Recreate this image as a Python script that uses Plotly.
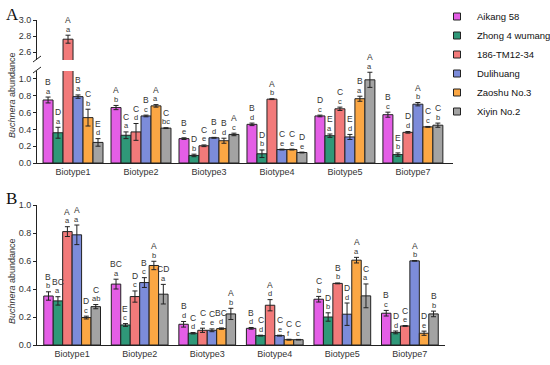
import plotly.graph_objects as go

biotypes = ["Biotype1", "Biotype2", "Biotype3", "Biotype4", "Biotype5", "Biotype7"]
cultivars = ["Aikang 58", "Zhong 4 wumang", "186-TM12-34", "Dulihuang", "Zaoshu No.3", "Xiyin No.2"]
colors = ["#E45EE6", "#2F9878", "#F27A7A", "#7C8CDA", "#FBA744", "#A3A3A3"]

# Panel A
a_aikang = [0.75, 0.66, 0.29, 0.46, 0.56, 0.575]
a_zhong = [0.36, 0.33, 0.09, 0.11, 0.325, 0.10]
a_186 = [2.76, 0.37, 0.205, 0.76, 0.645, 0.365]
a_duli = [0.79, 0.56, 0.30, 0.16, 0.31, 0.70]
a_zaoshu = [0.54, 0.68, 0.265, 0.16, 0.765, 0.43]
a_xiyin = [0.245, 0.415, 0.34, 0.125, 0.99, 0.45]
a_means = [a_aikang, a_zhong, a_186, a_duli, a_zaoshu, a_xiyin]

a_err = [
    [0.035, 0.025, 0.01, 0.015, 0.01, 0.03],
    [0.065, 0.04, 0.015, 0.045, 0.02, 0.02],
    [0.05, 0.10, 0.01, 0.005, 0.02, 0.01],
    [0.02, 0.01, 0.005, 0.005, 0.03, 0.02],
    [0.10, 0.015, 0.03, 0.005, 0.03, 0.005],
    [0.045, 0.005, 0.015, 0.005, 0.09, 0.025],
]
a_upper = [
    ["B", "A", "B", "B", "D", "B"],
    ["D", "C", "D", "D", "E", "E"],
    ["A", "C", "C", "A", "C", "D"],
    ["B", "B", "B", "C", "E", "A"],
    ["C", "A", "B", "C", "B", "C"],
    ["E", "C", "A", "D", "A", "C"],
]
a_lower = [
    ["a", "b", "e", "d", "c", "c"],
    ["a", "a", "b", "b", "a", "b"],
    ["a", "d", "e", "b", "c", "d"],
    ["a", "c", "d", "e", "d", "b"],
    ["b", "a", "d", "e", "a", "c"],
    ["d", "bc", "c", "e", "a", "b"],
]

# Panel B
b_aikang = [0.35, 0.435, 0.148, 0.119, 0.327, 0.227]
b_zhong = [0.315, 0.143, 0.084, 0.067, 0.20, 0.09]
b_186 = [0.81, 0.346, 0.105, 0.284, 0.44, 0.136]
b_duli = [0.787, 0.446, 0.105, 0.067, 0.22, 0.601]
b_zaoshu = [0.196, 0.568, 0.117, 0.038, 0.606, 0.084]
b_xiyin = [0.274, 0.363, 0.222, 0.038, 0.351, 0.222]
b_means = [b_aikang, b_zhong, b_186, b_duli, b_zaoshu, b_xiyin]

b_err = [
    [0.03, 0.035, 0.02, 0.006, 0.02, 0.02],
    [0.03, 0.01, 0.005, 0.003, 0.03, 0.01],
    [0.035, 0.04, 0.015, 0.04, 0.003, 0.003],
    [0.07, 0.035, 0.01, 0.003, 0.08, 0.002],
    [0.01, 0.03, 0.005, 0.003, 0.02, 0.015],
    [0.015, 0.07, 0.04, 0.002, 0.085, 0.02],
]
b_upper = [
    ["B", "BC", "B", "B", "C", "B"],
    ["BC", "E", "C", "C", "D", "D"],
    ["A", "D", "C", "A", "B", "C"],
    ["A", "B", "C", "C", "D", "A"],
    ["D", "A", "BC", "C", "A", "D"],
    ["C", "CD", "A", "C", "C", "B"],
]
b_lower = [
    ["b", "a", "d", "d", "b", "c"],
    ["a", "c", "d", "d", "b", "d"],
    ["a", "c", "e", "d", "b", "e"],
    ["a", "c", "e", "e", "d", "b"],
    ["c", "b", "d", "f", "a", "e"],
    ["ab", "a", "b", "c", "a", "b"],
]

W, H = 550, 365
FONT = "Arial, Liberation Sans, sans-serif"
TXT = "#333333"
LINE = "#222222"

def px_x(p):
    return p / W

def px_y(p):
    return 1 - p / H

fig = go.Figure()

A_BW = 0.147
B_BW = 0.14
n = len(cultivars)

def add_panel(means, errs, bw, xa, ya, upper_ya=None, upper_min=None):
    for i, (name, col) in enumerate(zip(cultivars, colors)):
        off = -bw * n / 2 + i * bw
        fig.add_trace(go.Bar(
            x=biotypes, y=means[i], name=name, marker_color=col,
            marker_line=dict(color=LINE, width=1),
            width=bw, offset=off,
            error_y=dict(type="data", array=errs[i], color=LINE, thickness=1, width=2.5),
            xaxis=xa, yaxis=ya, showlegend=False,
        ))
        if upper_ya is not None:
            big = [m if m > upper_min else None for m in means[i]]
            if any(v is not None for v in big):
                fig.add_trace(go.Bar(
                    x=biotypes, y=big, name=name, marker_color=col,
                    marker_line=dict(color=LINE, width=1),
                    width=bw, offset=off,
                    error_y=dict(type="data", array=errs[i], color=LINE, thickness=1, width=2.5),
                    xaxis=xa, yaxis=upper_ya, showlegend=False,
                ))

add_panel(a_means, a_err, A_BW, "x", "y", upper_ya="y2", upper_min=2.5)
add_panel(b_means, b_err, B_BW, "x3", "y3")

# legend entries (small square swatches like the reference)
for name, col in zip(cultivars, colors):
    fig.add_trace(go.Scatter(
        x=[None], y=[None], mode="markers", name=name,
        marker=dict(symbol="square", size=7, color=col, line=dict(color=LINE, width=1)),
        xaxis="x", yaxis="y", showlegend=True,
    ))

annotations = []

def add_letters(means, errs, ups, lows, bw, xref, yref, upper_yref=None, split=None):
    for i in range(n):
        for g in range(len(biotypes)):
            top = means[i][g] + errs[i][g]
            yr = yref
            if split is not None and means[i][g] > split:
                yr = upper_yref
            xpos = g - bw * n / 2 + (i + 0.5) * bw
            annotations.append(dict(x=xpos, y=top, xref=xref, yref=yr, text=lows[i][g],
                                    showarrow=False, yshift=6, yanchor="middle",
                                    font=dict(size=7.5, color=TXT, family=FONT)))
            annotations.append(dict(x=xpos, y=top, xref=xref, yref=yr, text=ups[i][g],
                                    showarrow=False, yshift=15, yanchor="middle",
                                    font=dict(size=8.5, color=TXT, family=FONT)))

add_letters(a_means, a_err, a_upper, a_lower, A_BW, "x", "y", "y2", 2.5)
add_letters(b_means, b_err, b_upper, b_lower, B_BW, "x3", "y3")

# panel labels and axis titles
annotations.append(dict(x=px_x(4), y=px_y(15), xref="paper", yref="paper", text="A",
                        showarrow=False, xanchor="left", yanchor="middle",
                        font=dict(size=17, color="#111", family="Liberation Serif, Times New Roman, serif")))
annotations.append(dict(x=px_x(4), y=px_y(198), xref="paper", yref="paper", text="B",
                        showarrow=False, xanchor="left", yanchor="middle",
                        font=dict(size=17, color="#111", family="Liberation Serif, Times New Roman, serif")))
for yc in (95, 281):
    annotations.append(dict(x=px_x(12), y=px_y(yc), xref="paper", yref="paper",
                            text="<i>Buchnera</i> abundance", textangle=-90, showarrow=False,
                            xanchor="center", yanchor="middle",
                            font=dict(size=9, color=TXT, family=FONT)))

# break marks
shapes = []
for yb in (59, 70):
    shapes.append(dict(type="line", xref="paper", yref="paper",
                       x0=px_x(33), y0=px_y(yb + 3), x1=px_x(41), y1=px_y(yb - 3),
                       line=dict(color=LINE, width=1)))

ax_common = dict(showline=True, linecolor=LINE, linewidth=1, showgrid=False, zeroline=False,
                 automargin=False, tickfont=dict(size=9, color=TXT, family=FONT))

fig.update_layout(
    width=W, height=H, margin=dict(l=0, r=0, t=0, b=0, pad=0, autoexpand=False),
    plot_bgcolor="white", paper_bgcolor="white",
    barmode="overlay",
    font=dict(family=FONT, color=TXT),
    xaxis=dict(domain=[px_x(37), px_x(453)], range=[-0.53, 5.59], anchor="y",
               ticks="", type="category", **ax_common),
    yaxis=dict(domain=[px_y(163), px_y(71)], range=[0, 1.095], anchor="x",
               tickvals=[0, 0.2, 0.4, 0.6, 0.8, 1.0], ticktext=["0.0", "0.2", "0.4", "0.6", "0.8", "1.0"],
               ticks="outside", ticklen=3, tickcolor=LINE, **ax_common),
    yaxis2=dict(domain=[px_y(60), px_y(20)], range=[2.5, 3.0], anchor="x",
                tickvals=[2.6, 2.8, 3.0], ticktext=["2.6", "2.8", "3.0"],
                ticks="outside", ticklen=3, tickcolor=LINE, **ax_common),
    xaxis3=dict(domain=[px_x(37), px_x(445)], range=[-0.52, 5.52], anchor="y3",
                ticks="", type="category", **ax_common),
    yaxis3=dict(domain=[px_y(345), px_y(205)], range=[0, 1.0], anchor="x3",
                tickvals=[0, 0.2, 0.4, 0.6, 0.8, 1.0], ticktext=["0.0", "0.2", "0.4", "0.6", "0.8", "1.0"],
                ticks="outside", ticklen=3, tickcolor=LINE, **ax_common),
    legend=dict(x=px_x(437), y=px_y(2), xanchor="left", yanchor="top",
                font=dict(size=9.5, color="#111", family=FONT), bgcolor="rgba(0,0,0,0)",
                tracegroupgap=0, itemclick=False, itemdoubleclick=False),
    annotations=annotations, shapes=shapes,
)

fig.write_html("out.html", config={"displayModeBar": False},
               post_script="document.body.style.margin='0';")
